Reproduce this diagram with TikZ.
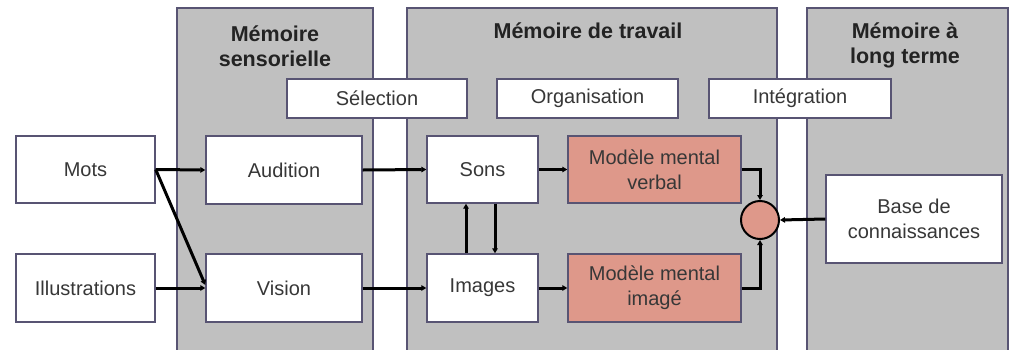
\documentclass[tikz,border=0pt]{standalone}
\usepackage{fontspec}
\setmainfont{Liberation Sans}
\usetikzlibrary{arrows.meta}
\definecolor{panelgray}{RGB}{192,192,192}
\definecolor{edgegray}{RGB}{88,84,115}
\definecolor{salmon}{RGB}{222,152,138}
\definecolor{txt}{RGB}{55,55,55}
\definecolor{ttl}{RGB}{35,35,35}

\begin{document}
\begin{tikzpicture}[x=1pt,y=-1pt,
  panel/.style={draw=edgegray, line width=1.3pt, fill=panelgray},
  title/.style={text=ttl, font=\bfseries\fontsize{21.5}{25}\selectfont, align=center, inner sep=0pt},
  box/.style={draw=edgegray, line width=1.4pt, fill=white, text=txt, inner sep=0pt,
              font=\fontsize{20}{25}\selectfont, align=center},
  hot/.style={box, fill=salmon},
  arr/.style={line width=3pt, black, -{Triangle[length=5pt,width=5.5pt]}}]

\useasboundingbox (0,0) rectangle (1010,349);
\clip (0,0) rectangle (1010,349);

% memory stores
\draw[panel] (177,8) rectangle (373,362);
\draw[panel] (407,8) rectangle (777,362);
\draw[panel] (807,8) rectangle (1008,362);

\node[title] (tsens) at (275,46) {Mémoire\\sensorielle};
\node[title] (twork) at (588,31) {Mémoire de travail};
\node[title] (tlong) at (905,45) {Mémoire à\\long terme};

% processes
\node[box, minimum width=180pt, minimum height=39pt] (sel) at (377,98.5) {Sélection};
\node[box, minimum width=181pt, minimum height=39pt] (org) at (587.5,98.5) {Organisation};
\node[box, minimum width=182pt, minimum height=39pt] (integ) at (800,98.5) {Intégration};

% inputs
\node[box, minimum width=139pt, minimum height=67pt] (mots) at (85.5,169.5) {Mots};
\node[box, minimum width=139pt, minimum height=68pt] (illus) at (85.5,288) {Illustrations};

% sensory memory
\node[box, minimum width=156pt, minimum height=68pt] (audi) at (284,170) {Audition};
\node[box, minimum width=156pt, minimum height=68pt] (vis) at (284,288) {Vision};

% working memory
\node[box, minimum width=111pt, minimum height=67pt] (sons) at (482.5,169.5) {Sons};
\node[box, minimum width=111pt, minimum height=68pt] (imgs) at (482.5,288) {Images};
\node[hot, minimum width=173pt, minimum height=67pt] (mmv) at (654.5,169.5) {Modèle mental\\verbal};
\node[hot, minimum width=173pt, minimum height=68pt] (mmi) at (654.5,288) {Modèle mental\\imagé};
\node[circle, draw=black, line width=2pt, fill=salmon, minimum size=38pt, inner sep=0pt] (comb) at (760,220) {};

% long-term memory
\node[box, minimum width=176pt, minimum height=88pt] (base) at (914,219) {Base de\\connaissances};

% flows
\draw[arr] (mots.east) -- (audi.west);
\draw[arr] (mots.east) -- ([yshift=3pt]vis.west);
\draw[arr] (illus.east) -- (vis.west);
\draw[arr] (audi.east) -- (sons.west);
\draw[arr] (vis.east) -- (imgs.west);
\draw[arr] (sons.east) -- (mmv.west);
\draw[arr] (imgs.east) -- (mmi.west);
\draw[arr] ([xshift=-16.5pt]imgs.north) -- ([xshift=-16.5pt]sons.south);
\draw[arr] ([xshift=12.5pt]sons.south) -- ([xshift=12.5pt]imgs.north);
\draw[arr] (mmv.east) -| (comb.north);
\draw[arr] (mmi.east) -| (comb.south);
\draw[arr] (base.west) -- (comb.east);
\end{tikzpicture}
\end{document}
